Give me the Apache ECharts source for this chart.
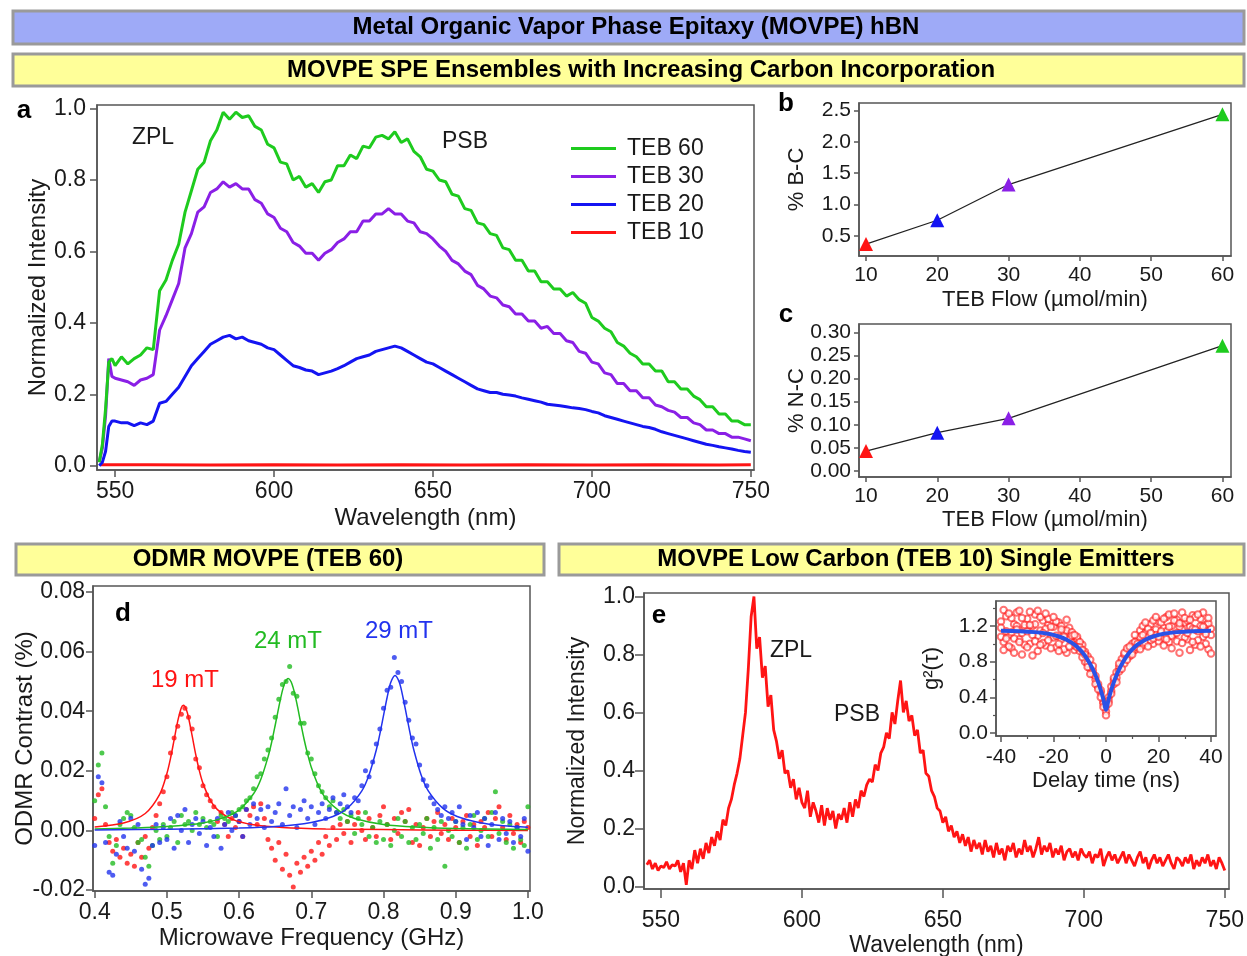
<!DOCTYPE html>
<html>
<head>
<meta charset="utf-8">
<title>MOVPE hBN</title>
<script src="https://cdn.jsdelivr.net/npm/echarts@6/dist/echarts.min.js"></script>
<style>
  html, body { margin: 0; padding: 0; background: #fff; }
  #main { width: 1247px; height: 956px; }
</style>
</head>
<body>
<div id="main"></div>
<script>
// ---- panel a: ensemble spectra (normalized intensity vs wavelength) ----
var wlA = [545, 546, 547, 548, 549,
  550, 552, 554, 556, 558, 560, 562, 564, 566, 568,
  570, 572, 574, 576, 578, 580, 582, 584, 586, 588,
  590, 592, 594, 596, 598, 600, 602, 604, 606, 608,
  610, 612, 614, 616, 618, 620, 622, 624, 626, 628,
  630, 632, 634, 636, 638, 640, 642, 644, 646, 648,
  650, 652, 654, 656, 658, 660, 662, 664, 666, 668,
  670, 672, 674, 676, 678, 680, 682, 684, 686, 688,
  690, 692, 694, 696, 698, 700, 702, 704, 706, 708,
  710, 712, 714, 716, 718, 720, 722, 724, 726, 728,
  730, 732, 734, 736, 738, 740, 742, 744, 746, 748,
  750];
var teb60 = [0.01, 0.06, 0.16, 0.29, 0.30,
  0.28, 0.305, 0.285, 0.30, 0.31, 0.33, 0.325, 0.49, 0.52, 0.575,
  0.62, 0.71, 0.77, 0.83, 0.85, 0.91, 0.94, 0.99, 0.97, 0.99,
  0.975, 0.98, 0.95, 0.94, 0.90, 0.89, 0.85, 0.845, 0.80, 0.81,
  0.78, 0.79, 0.765, 0.795, 0.80, 0.84, 0.84, 0.87, 0.86, 0.895,
  0.89, 0.92, 0.925, 0.915, 0.935, 0.905, 0.915, 0.88, 0.865, 0.83,
  0.825, 0.80, 0.795, 0.76, 0.755, 0.72, 0.715, 0.68, 0.675, 0.65,
  0.645, 0.61, 0.605, 0.575, 0.575, 0.545, 0.545, 0.515, 0.515, 0.495,
  0.495, 0.475, 0.485, 0.465, 0.455, 0.415, 0.405, 0.385, 0.375, 0.345,
  0.335, 0.315, 0.305, 0.285, 0.285, 0.265, 0.265, 0.235, 0.235, 0.215,
  0.215, 0.195, 0.185, 0.165, 0.165, 0.145, 0.145, 0.125, 0.125, 0.115,
  0.115];
var teb30 = [0.01, 0.05, 0.14, 0.30, 0.25,
  0.245, 0.24, 0.235, 0.225, 0.24, 0.245, 0.255, 0.38, 0.42, 0.465,
  0.51, 0.61, 0.65, 0.71, 0.725, 0.765, 0.775, 0.795, 0.78, 0.79,
  0.775, 0.775, 0.745, 0.735, 0.705, 0.695, 0.665, 0.655, 0.625, 0.615,
  0.595, 0.595, 0.575, 0.595, 0.605, 0.625, 0.635, 0.655, 0.655, 0.685,
  0.685, 0.705, 0.705, 0.72, 0.705, 0.705, 0.685, 0.68, 0.655, 0.65,
  0.635, 0.615, 0.60, 0.575, 0.565, 0.545, 0.535, 0.505, 0.495, 0.475,
  0.47, 0.45, 0.445, 0.425, 0.425, 0.405, 0.405, 0.385, 0.39, 0.37,
  0.37, 0.35, 0.345, 0.32, 0.315, 0.29, 0.285, 0.26, 0.255, 0.23,
  0.23, 0.21, 0.21, 0.19, 0.19, 0.17, 0.165, 0.155, 0.15, 0.135,
  0.135, 0.12, 0.115, 0.10, 0.10, 0.09, 0.09, 0.08, 0.08, 0.075,
  0.07];
var teb20 = [0.0, 0.01, 0.04, 0.11, 0.125,
  0.125, 0.12, 0.12, 0.112, 0.12, 0.115, 0.125, 0.175, 0.18, 0.20,
  0.22, 0.25, 0.28, 0.30, 0.32, 0.34, 0.35, 0.36, 0.365, 0.355,
  0.36, 0.35, 0.345, 0.34, 0.33, 0.325, 0.31, 0.295, 0.28, 0.275,
  0.268, 0.265, 0.255, 0.26, 0.265, 0.272, 0.28, 0.29, 0.30, 0.305,
  0.31, 0.32, 0.325, 0.33, 0.335, 0.33, 0.32, 0.31, 0.30, 0.29,
  0.285, 0.275, 0.265, 0.255, 0.245, 0.235, 0.225, 0.215, 0.21, 0.205,
  0.205, 0.20, 0.198, 0.195, 0.19, 0.186, 0.182, 0.178, 0.172, 0.17,
  0.168, 0.165, 0.162, 0.16, 0.157, 0.152, 0.148, 0.14, 0.135, 0.13,
  0.125, 0.12, 0.115, 0.11, 0.107, 0.102, 0.095, 0.09, 0.085, 0.08,
  0.075, 0.07, 0.065, 0.06, 0.057, 0.053, 0.05, 0.047, 0.043, 0.04,
  0.038];
var wlA10 = [545.5, 560, 580, 600, 620, 640, 660, 680, 700, 720, 740, 750];
var teb10 = [0.003, 0.003, 0.002, 0.003, 0.002, 0.003, 0.002, 0.003, 0.002, 0.003, 0.002, 0.003];
var wlTicks = [550, 600, 650, 700, 750];
var intTicks = [0, 0.2, 0.4, 0.6, 0.8, 1.0];

// ---- panels b, c: carbon incorporation vs TEB flow ----
var tebFlow = [10, 20, 30, 60];
var pctBC = [0.37, 0.75, 1.32, 2.44];
var pctNC = [0.043, 0.083, 0.114, 0.271];
var flowTicks = [10, 20, 30, 40, 50, 60];
var bcTicks = [0.5, 1.0, 1.5, 2.0, 2.5];
var ncTicks = [0, 0.05, 0.10, 0.15, 0.20, 0.25, 0.30];

// ---- panel d: ODMR ----
var freq = [0.400, 0.405, 0.410, 0.415, 0.420, 0.425, 0.430, 0.435, 0.440, 0.445,
  0.450, 0.455, 0.460, 0.465, 0.470, 0.475, 0.480, 0.485, 0.490, 0.495,
  0.500, 0.505, 0.510, 0.515, 0.520, 0.525, 0.530, 0.535, 0.540, 0.545,
  0.550, 0.555, 0.560, 0.565, 0.570, 0.575, 0.580, 0.585, 0.590, 0.595,
  0.600, 0.605, 0.610, 0.615, 0.620, 0.625, 0.630, 0.635, 0.640, 0.645,
  0.650, 0.655, 0.660, 0.665, 0.670, 0.675, 0.680, 0.685, 0.690, 0.695,
  0.700, 0.705, 0.710, 0.715, 0.720, 0.725, 0.730, 0.735, 0.740, 0.745,
  0.750, 0.755, 0.760, 0.765, 0.770, 0.775, 0.780, 0.785, 0.790, 0.795,
  0.800, 0.805, 0.810, 0.815, 0.820, 0.825, 0.830, 0.835, 0.840, 0.845,
  0.850, 0.855, 0.860, 0.865, 0.870, 0.875, 0.880, 0.885, 0.890, 0.895,
  0.900, 0.905, 0.910, 0.915, 0.920, 0.925, 0.930, 0.935, 0.940, 0.945,
  0.950, 0.955, 0.960, 0.965, 0.970, 0.975, 0.980, 0.985, 0.990, 0.995,
  1.000];
var odmr19 = [0.004, 0.012, 0.014, 0.002, -0.004, -0.007, -0.003, -0.009, -0.006, -0.011,
  -0.008, -0.012, -0.004, -0.009, -0.002, -0.006, 0.001, 0.005, 0.009, 0.013,
  0.018, 0.026, 0.031, 0.035, 0.039, 0.041, 0.038, 0.034, 0.024, 0.021,
  0.015, 0.012, 0.010, 0.008, 0.003, 0.006, 0.002, -0.002, 0.004, 0.001,
  0.003, -0.002, 0.007, 0.005, 0.008, 0.002, 0.009, 0.004, -0.003, -0.006,
  -0.010, -0.004, -0.013, -0.008, -0.015, -0.019, -0.011, -0.014, -0.009, -0.012,
  -0.007, -0.010, -0.004, -0.008, -0.002, -0.005, 0.001, -0.003, 0.002, -0.001,
  0.003, -0.004, 0.002, 0.006, 0.000, -0.003, 0.004, 0.001, -0.002, 0.005,
  0.008, 0.002, -0.003, 0.004, -0.001, 0.006, 0.003, 0.007, -0.004, 0.002,
  -0.005, 0.001, 0.004, -0.002, 0.003, 0.006, -0.001, 0.002, -0.003, 0.004,
  0.001, -0.004, 0.003, 0.005, -0.002, 0.002, -0.005, 0.003, 0.001, 0.006,
  -0.002, 0.004, 0.008, 0.001, -0.003, 0.005, -0.001, 0.002, -0.004, 0.003,
  0.001];
var odmr24 = [0.010, 0.022, 0.026, 0.008, -0.002, -0.011, -0.005, 0.002, 0.004, 0.006,
  0.005, 0.001, -0.004, -0.003, -0.009, -0.012, -0.005, 0.000, -0.003, 0.002,
  -0.002, 0.001, 0.003, -0.004, 0.005, 0.002, 0.003, 0.000, 0.006, 0.002,
  0.004, 0.001, 0.003, 0.002, -0.002, 0.005, 0.004, 0.003, 0.006, 0.005,
  0.007, 0.008, 0.010, 0.011, 0.014, 0.018, 0.019, 0.024, 0.027, 0.031,
  0.038, 0.044, 0.049, 0.050, 0.055, 0.046, 0.045, 0.036, 0.036, 0.026,
  0.024, 0.019, 0.015, 0.013, 0.011, 0.008, 0.010, 0.006, 0.004, 0.007,
  0.003, 0.005, -0.001, 0.004, 0.002, 0.006, -0.002, 0.001, -0.004, 0.003,
  -0.003, 0.002, -0.005, 0.000, 0.004, -0.002, 0.003, -0.004, 0.001, -0.003,
  0.002, -0.001, 0.004, -0.006, 0.001, -0.003, 0.003, -0.012, 0.000, -0.002,
  0.003, -0.004, 0.001, -0.006, 0.002, 0.005, -0.003, 0.000, 0.004, -0.002,
  0.006, 0.013, -0.001, 0.003, -0.004, 0.002, -0.006, 0.001, -0.003, -0.005,
  0.008];
var odmr29 = [-0.005, 0.018, 0.016, -0.004, -0.014, -0.015, -0.008, 0.003, -0.002, -0.006,
  0.004, -0.007, 0.002, -0.013, -0.018, -0.016, -0.005, 0.002, -0.004, 0.001,
  -0.003, 0.004, -0.006, 0.005, 0.000, 0.007, -0.004, 0.002, 0.004, -0.001,
  0.003, -0.005, 0.001, -0.002, 0.004, -0.006, 0.002, 0.006, 0.000, 0.005,
  0.003, -0.002, 0.007, 0.002, 0.009, 0.004, 0.007, 0.001, 0.008, 0.003,
  0.006, 0.009, 0.002, 0.014, 0.005, 0.008, 0.001, 0.007, 0.010, 0.004,
  0.008, 0.002, 0.006, 0.009, 0.004, 0.007, 0.011, 0.006, 0.009, 0.012,
  0.008, 0.006, 0.011, 0.010, 0.015, 0.020, 0.018, 0.023, 0.029, 0.034,
  0.041, 0.047, 0.048, 0.058, 0.053, 0.050, 0.043, 0.037, 0.031, 0.029,
  0.022, 0.017, 0.015, 0.011, 0.009, 0.007, 0.005, 0.008, 0.004, 0.006,
  0.003, 0.008, 0.002, -0.003, 0.005, 0.001, 0.006, -0.002, 0.004, -0.005,
  0.002, 0.006, -0.003, 0.004, -0.001, 0.003, -0.004, 0.001, -0.002, 0.004,
  -0.007];
var fit19X = [0.40, 0.44, 0.47, 0.49, 0.50, 0.505, 0.51, 0.515, 0.52, 0.523, 0.527, 0.53, 0.535,
  0.54, 0.545, 0.55, 0.56, 0.57, 0.59, 0.62, 0.66, 0.72, 0.80, 0.90, 1.00];
var fit19 = [0.0012, 0.0025, 0.0057, 0.0121, 0.0191, 0.0242, 0.0304, 0.0367, 0.0412, 0.0420, 0.0405, 0.0378, 0.0317,
  0.0254, 0.0200, 0.0158, 0.0102, 0.0070, 0.0038, 0.0019, 0.0010, 0.0005, 0.0003, 0.0001, 0.0000];
var fit24X = [0.40, 0.45, 0.50, 0.55, 0.58, 0.60, 0.62, 0.63, 0.64, 0.645, 0.65, 0.655, 0.66, 0.664, 0.668,
  0.672, 0.676, 0.68, 0.685, 0.69, 0.695, 0.70, 0.71, 0.72, 0.74, 0.76, 0.80, 0.85, 0.90, 1.00];
var fit24 = [0.0005, 0.0008, 0.0013, 0.0025, 0.0044, 0.0069, 0.0123, 0.0171, 0.0246, 0.0295, 0.0353, 0.0414, 0.0469, 0.0499, 0.0510,
  0.0499, 0.0469, 0.0426, 0.0365, 0.0306, 0.0255, 0.0212, 0.0149, 0.0108, 0.0063, 0.0040, 0.0020, 0.0011, 0.0007, 0.0003];
var fit29X = [0.40, 0.50, 0.60, 0.65, 0.70, 0.73, 0.75, 0.77, 0.78, 0.79, 0.795, 0.80, 0.805, 0.81, 0.816,
  0.822, 0.827, 0.832, 0.837, 0.842, 0.852, 0.862, 0.882, 0.902, 0.932, 0.966, 1.00];
var fit29 = [0.0002, 0.0004, 0.0008, 0.0013, 0.0027, 0.0047, 0.0075, 0.0133, 0.0187, 0.0270, 0.0324, 0.0385, 0.0446, 0.0496, 0.0520,
  0.0496, 0.0446, 0.0385, 0.0324, 0.0270, 0.0187, 0.0133, 0.0075, 0.0047, 0.0027, 0.0016, 0.0011];
var freqTicks = [0.4, 0.5, 0.6, 0.7, 0.8, 0.9, 1.0];
var odmrTicks = [-0.02, 0, 0.02, 0.04, 0.06, 0.08];

// ---- panel e: single emitter spectrum ----
var wlE = [545, 546, 547, 548, 549, 550, 551, 552, 553, 554,
  555, 556, 557, 558, 559, 560, 561, 562, 563, 564,
  565, 566, 567, 568, 569, 570, 571, 572, 573, 574,
  575, 576, 577, 578, 579, 580, 581, 582, 583, 584,
  585, 586, 587, 588, 589, 590, 591, 592, 593, 594,
  595, 596, 597, 598, 599, 600, 601, 602, 603, 604,
  605, 606, 607, 608, 609, 610, 611, 612, 613, 614,
  615, 616, 617, 618, 619, 620, 621, 622, 623, 624,
  625, 626, 627, 628, 629, 630, 631, 632, 633, 634,
  635, 636, 637, 638, 639, 640, 641, 642, 643, 644,
  645, 646, 647, 648, 649, 650, 651, 652, 653, 654,
  655, 656, 657, 658, 659, 660, 661, 662, 663, 664,
  665, 666, 667, 668, 669, 670, 671, 672, 673, 674,
  675, 676, 677, 678, 679, 680, 681, 682, 683, 684,
  685, 686, 687, 688, 689, 690, 691, 692, 693, 694,
  695, 696, 697, 698, 699, 700, 701, 702, 703, 704,
  705, 706, 707, 708, 709, 710, 711, 712, 713, 714,
  715, 716, 717, 718, 719, 720, 721, 722, 723, 724,
  725, 726, 727, 728, 729, 730, 731, 732, 733, 734,
  735, 736, 737, 738, 739, 740, 741, 742, 743, 744,
  745, 746, 747, 748, 749, 750];
var specE = [0.075, 0.09, 0.06, 0.08, 0.055, 0.07, 0.065, 0.085, 0.06, 0.075,
  0.07, 0.09, 0.05, 0.08, 0.005, 0.09, 0.06, 0.125, 0.08, 0.13,
  0.095, 0.15, 0.115, 0.17, 0.14, 0.19, 0.16, 0.23, 0.21, 0.27,
  0.30, 0.35, 0.39, 0.44, 0.52, 0.60, 0.75, 0.93, 1.0, 0.82,
  0.86, 0.72, 0.76, 0.62, 0.66, 0.54, 0.50, 0.44, 0.47, 0.39,
  0.40, 0.34, 0.37, 0.30, 0.34, 0.29, 0.27, 0.33, 0.24, 0.29,
  0.26, 0.22, 0.28, 0.21, 0.27, 0.23, 0.26, 0.20, 0.25, 0.23,
  0.27, 0.22, 0.29, 0.24, 0.30, 0.27, 0.33, 0.31, 0.35, 0.37,
  0.36, 0.42, 0.40, 0.46, 0.48, 0.53, 0.51, 0.60, 0.56, 0.64,
  0.71, 0.60, 0.64, 0.57, 0.59, 0.52, 0.54, 0.46, 0.47, 0.39,
  0.38, 0.33, 0.31, 0.27, 0.26, 0.22, 0.24, 0.19, 0.21, 0.17,
  0.19, 0.15, 0.18, 0.14, 0.17, 0.12, 0.16, 0.13, 0.15, 0.11,
  0.16, 0.12, 0.14, 0.10, 0.15, 0.11, 0.13, 0.09, 0.14, 0.12,
  0.15, 0.10, 0.13, 0.11, 0.16, 0.12, 0.14, 0.10, 0.13, 0.17,
  0.11, 0.14, 0.12, 0.15, 0.10, 0.13, 0.11, 0.14, 0.09, 0.12,
  0.13, 0.10, 0.12, 0.09, 0.13, 0.11, 0.10, 0.12, 0.08, 0.11,
  0.10, 0.13, 0.07, 0.10, 0.12, 0.09, 0.11, 0.08, 0.10, 0.12,
  0.08, 0.11, 0.09, 0.07, 0.10, 0.12, 0.08, 0.10, 0.06, 0.09,
  0.11, 0.08, 0.10, 0.07, 0.09, 0.11, 0.08, 0.06, 0.10, 0.09,
  0.07, 0.10, 0.08, 0.11, 0.06, 0.09, 0.07, 0.10, 0.08, 0.11,
  0.07, 0.09, 0.06, 0.10, 0.08, 0.055];
var eTicks = [0, 0.2, 0.4, 0.6, 0.8, 1.0];

// ---- inset: g2(tau) ----
var delay = [-40, -39, -38, -37, -36, -35, -34, -33, -32, -31,
  -30, -29, -28, -27, -26, -25, -24, -23, -22, -21,
  -20, -19, -18, -17, -16, -15, -14, -13, -12, -11,
  -10, -9, -8, -7, -6, -5, -4, -3, -2, -1,
  0,
  1, 2, 3, 4, 5, 6, 7, 8, 9, 10,
  11, 12, 13, 14, 15, 16, 17, 18, 19, 20,
  21, 22, 23, 24, 25, 26, 27, 28, 29, 30,
  31, 32, 33, 34, 35, 36, 37, 38, 39, 40];
var g2a = [1.25, 1.02, 1.31, 1.10, 0.95, 1.22, 1.35, 1.05, 0.88, 1.18,
  1.28, 1.00, 1.20, 1.33, 0.92, 1.15, 1.26, 0.98, 1.21, 1.08,
  1.19, 0.96, 1.24, 1.05, 1.12, 0.90, 1.18, 1.02, 0.93, 1.05,
  0.92, 0.99, 0.80, 0.86, 0.72, 0.66, 0.60, 0.52, 0.45, 0.35,
  0.24,
  0.40, 0.47, 0.59, 0.62, 0.74, 0.80, 0.78, 0.90, 0.86, 1.00,
  0.93, 1.05, 1.15, 0.98, 1.12, 1.08, 1.22, 1.00, 1.16, 1.25,
  1.06, 1.18, 1.30, 1.02, 1.20, 1.11, 1.27, 0.90, 1.16, 1.24,
  1.05, 1.19, 1.32, 0.99, 1.14, 1.28, 1.08, 1.21, 0.94, 1.17];
var g2b = [1.08, 1.38, 1.14, 0.97, 1.29, 1.06, 1.20, 1.37, 1.12, 0.99,
  1.14, 1.36, 0.87, 1.22, 1.09, 1.30, 1.01, 1.17, 1.28, 0.95,
  1.07, 1.25, 1.00, 1.20, 0.94, 1.15, 1.05, 1.13, 0.98, 1.08,
  1.02, 0.85, 0.91, 0.78, 0.82, 0.70, 0.64, 0.55, 0.48, 0.33,
  0.30,
  0.36, 0.52, 0.55, 0.68, 0.69, 0.83, 0.88, 0.82, 0.95, 0.91,
  1.02, 0.96, 1.08, 1.20, 1.01, 1.17, 1.04, 1.26, 1.10, 1.03,
  1.24, 0.98, 1.14, 1.33, 1.09, 1.26, 1.03, 1.19, 1.35, 1.07,
  1.26, 0.93, 1.17, 1.30, 1.04, 1.20, 1.35, 1.00, 1.23, 1.10];
var g2c = [1.18, 0.93, 1.06, 1.34, 1.13, 0.90, 1.16, 1.02, 1.29, 1.21,
  0.96, 1.21, 1.10, 1.03, 1.37, 0.99, 1.12, 1.34, 1.04, 1.19,
  1.30, 1.09, 0.92, 1.16, 1.08, 1.27, 0.97, 1.09, 1.10, 0.96,
  0.96, 0.93, 0.88, 0.74, 0.66, 0.75, 0.55, 0.49, 0.40, 0.29,
  0.20,
  0.33, 0.44, 0.62, 0.57, 0.78, 0.72, 0.90, 0.95, 0.97, 0.88,
  1.10, 1.00, 0.94, 1.10, 1.24, 0.97, 1.12, 1.06, 1.30, 1.08,
  1.14, 1.28, 1.05, 1.19, 0.95, 1.34, 1.12, 1.23, 1.01, 1.29,
  1.12, 1.27, 1.02, 1.16, 1.33, 0.97, 1.19, 1.11, 1.29, 0.89];
var fitDelay = [-40, -33, -27, -22, -18, -15, -12, -10, -8, -6, -5, -4, -3, -2, -1, 0,
  1, 2, 3, 4, 5, 6, 8, 10, 12, 15, 18, 22, 27, 33, 40];
var fitG2 = [1.147, 1.142, 1.131, 1.112, 1.082, 1.046, 0.990, 0.937, 0.866, 0.772, 0.714, 0.647, 0.570, 0.482, 0.379, 0.26,
  0.379, 0.482, 0.570, 0.647, 0.714, 0.772, 0.866, 0.937, 0.990, 1.046, 1.082, 1.112, 1.131, 1.142, 1.147];
var delayTicks = [-40, -20, 0, 20, 40];
var delayMinor = [-30, -10, 10, 30];
var g2Ticks = [0, 0.4, 0.8, 1.2];
var g2Minor = [0.2, 0.6, 1.0, 1.4];

var FONT = '"Liberation Sans", Arial, Helvetica, sans-serif';
var frameColor = '#555';
var textColor = '#1a1a1a';
var cGreen = '#1ecb1e', cPurple = '#8a1fe6', cBlue = '#1414f2', cRed = '#ff1414';

function pairs(xs, ys) {
    return xs.map(function (x, i) { return [x, ys[i]]; });
}
function fixed(n) {
    return function (v) { return v.toFixed(n); };
}

function makeGrid(left, top, width, height) {
    return {
        left: left, top: top, width: width, height: height,
        show: true, borderColor: frameColor, borderWidth: 1.5,
        containLabel: false, outerBoundsMode: 'none'
    };
}

// shared axis look: frame axis with outward ticks at given values
function makeAxis(o) {
    return {
        type: 'value', gridIndex: o.grid, min: o.min, max: o.max,
        position: o.position,
        name: o.name, nameLocation: 'middle', nameGap: o.nameGap, nameMoveOverlap: false,
        nameTextStyle: { fontSize: o.nameSize, color: textColor, fontFamily: FONT },
        axisLine: { show: true, onZero: false, lineStyle: { color: frameColor, width: 1.5 } },
        axisTick: { show: true, customValues: o.ticks, length: o.tickLen, lineStyle: { color: frameColor, width: 1.5 } },
        axisLabel: { customValues: o.ticks, formatter: o.fmt, fontSize: o.size, color: textColor, margin: o.margin, fontFamily: FONT },
        splitLine: { show: false }
    };
}
function minorAxis(grid, position, min, max, ticks) {
    return {
        type: 'value', gridIndex: grid, min: min, max: max, position: position,
        axisLine: { show: false, onZero: false },
        axisTick: { show: true, customValues: ticks, length: 3, lineStyle: { color: frameColor, width: 1.2 } },
        axisLabel: { show: false },
        splitLine: { show: false }
    };
}

function banner(x, y, w, h, fill, text, cx) {
    return [
        { type: 'rect', shape: { x: x, y: y, width: w, height: h },
          style: { fill: fill, stroke: '#9a9a9a', lineWidth: 3 } },
        { type: 'text', x: cx, y: y + h / 2,
          style: { text: text, fontSize: 24, fontWeight: 'bold', fontFamily: FONT, fill: '#000',
                   align: 'center', verticalAlign: 'middle' } }
    ];
}
function note(x, y, text, color, size, bold) {
    return { type: 'text', x: x, y: y,
        style: { text: text, fontSize: size, fontWeight: bold ? 'bold' : 'normal', fontFamily: FONT,
                 fill: color, align: 'center', verticalAlign: 'middle' } };
}

var triColors = [cRed, cBlue, cPurple, cGreen];
function triPoints(xs, ys) {
    return xs.map(function (x, i) {
        return { value: [x, ys[i]], itemStyle: { color: triColors[i] } };
    });
}

var chart = echarts.init(document.getElementById('main'), null, { renderer: 'canvas' });

var option = {
    animation: false,
    backgroundColor: '#fff',
    textStyle: { fontFamily: FONT },
    grid: [
        makeGrid(97, 105, 657, 365),   // a
        makeGrid(859, 103, 372, 153),  // b
        makeGrid(859, 324, 372, 153),  // c
        makeGrid(93, 586, 437, 305),   // d
        makeGrid(644, 593, 585, 296),  // e
        makeGrid(996, 601, 220, 135)   // inset
    ],
    xAxis: [
        makeAxis({ grid: 0, position: 'bottom', min: 544.3, max: 751, ticks: wlTicks, fmt: fixed(0), size: 23, margin: 10, tickLen: 7,
                   name: 'Wavelength (nm)', nameGap: 36, nameSize: 24 }),
        makeAxis({ grid: 1, position: 'bottom', min: 9.02, max: 61.2, ticks: flowTicks, fmt: fixed(0), size: 21, margin: 9, tickLen: 5,
                   name: 'TEB Flow (µmol/min)', nameGap: 33, nameSize: 22 }),
        makeAxis({ grid: 2, position: 'bottom', min: 9.02, max: 61.2, ticks: flowTicks, fmt: fixed(0), size: 21, margin: 9, tickLen: 5,
                   name: 'TEB Flow (µmol/min)', nameGap: 32, nameSize: 22 }),
        makeAxis({ grid: 3, position: 'bottom', min: 0.39765, max: 1.0029, ticks: freqTicks, fmt: fixed(1), size: 23, margin: 10, tickLen: 7,
                   name: 'Microwave Frequency (GHz)', nameGap: 35, nameSize: 24 }),
        makeAxis({ grid: 4, position: 'bottom', min: 544, max: 751.5, ticks: wlTicks, fmt: fixed(0), size: 23, margin: 20, tickLen: 9,
                   name: 'Wavelength (nm)', nameGap: 45, nameSize: 23 }),
        makeAxis({ grid: 5, position: 'bottom', min: -41.9, max: 41.9, ticks: delayTicks, fmt: fixed(0), size: 21, margin: 11, tickLen: 6,
                   name: 'Delay time (ns)', nameGap: 34, nameSize: 22 }),
        minorAxis(5, 'bottom', -41.9, 41.9, delayMinor)
    ],
    yAxis: [
        makeAxis({ grid: 0, position: 'left', min: -0.012, max: 1.01, ticks: intTicks, fmt: fixed(1), size: 23, margin: 11, tickLen: 7,
                   name: 'Normalized Intensity', nameGap: 47, nameSize: 24 }),
        makeAxis({ grid: 1, position: 'left', min: 0.18, max: 2.62, ticks: bcTicks, fmt: fixed(1), size: 21, margin: 8, tickLen: 5,
                   name: '% B-C', nameGap: 51, nameSize: 22 }),
        makeAxis({ grid: 2, position: 'left', min: -0.013, max: 0.318, ticks: ncTicks, fmt: fixed(2), size: 21, margin: 8, tickLen: 5,
                   name: '% N-C', nameGap: 51, nameSize: 22 }),
        makeAxis({ grid: 3, position: 'left', min: -0.0203, max: 0.082, ticks: odmrTicks, fmt: fixed(2), size: 23, margin: 8, tickLen: 7,
                   name: 'ODMR Contrast (%)', nameGap: 56, nameSize: 24 }),
        makeAxis({ grid: 4, position: 'left', min: -0.009, max: 1.012, ticks: eTicks, fmt: fixed(1), size: 23, margin: 9, tickLen: 9,
                   name: 'Normalized Intensity', nameGap: 55, nameSize: 23 }),
        makeAxis({ grid: 5, position: 'left', min: -0.034, max: 1.48, ticks: g2Ticks, fmt: fixed(1), size: 21, margin: 8, tickLen: 6,
                   name: 'g²(τ)', nameGap: 53, nameSize: 22 }),
        minorAxis(5, 'left', -0.034, 1.48, g2Minor)
    ],
    legend: {
        data: ['TEB 60', 'TEB 30', 'TEB 20', 'TEB 10'],
        orient: 'vertical', left: 571, top: 137, padding: 0,
        itemWidth: 45, itemHeight: 3, itemGap: 5, icon: 'rect',
        selectedMode: false,
        textStyle: { fontSize: 23, color: textColor, fontFamily: FONT, padding: [0, 0, 0, 6] }
    },
    graphic: [].concat(
        banner(13, 11, 1231, 33, '#9eaaf7', 'Metal Organic Vapor Phase Epitaxy (MOVPE) hBN', 636),
        banner(13, 54, 1231, 32, '#ffff99', 'MOVPE SPE Ensembles with Increasing Carbon Incorporation', 641),
        banner(16, 544, 528, 31, '#ffff99', 'ODMR MOVPE (TEB 60)', 268),
        banner(559, 544, 685, 31, '#ffff99', 'MOVPE Low Carbon (TEB 10) Single Emitters', 916),
        [
            note(24, 111, 'a', '#000', 26, true),
            note(786, 104, 'b', '#000', 26, true),
            note(786, 315, 'c', '#000', 26, true),
            note(123, 614, 'd', '#000', 26, true),
            note(659, 616, 'e', '#000', 26, true),
            note(153, 138, 'ZPL', textColor, 23),
            note(465, 142, 'PSB', textColor, 23),
            note(185, 680, '19 mT', cRed, 24),
            note(288, 641, '24 mT', '#22bb22', 24),
            note(399, 631, '29 mT', '#2233ee', 24),
            note(791, 651, 'ZPL', textColor, 23),
            note(857, 715, 'PSB', textColor, 23)
        ]
    ),
    series: [
        // panel a
        { name: 'TEB 10', type: 'line', xAxisIndex: 0, yAxisIndex: 0, data: pairs(wlA10, teb10),
          showSymbol: false, color: cRed, lineStyle: { width: 3 } },
        { name: 'TEB 20', type: 'line', xAxisIndex: 0, yAxisIndex: 0, data: pairs(wlA, teb20),
          showSymbol: false, color: cBlue, lineStyle: { width: 3 } },
        { name: 'TEB 30', type: 'line', xAxisIndex: 0, yAxisIndex: 0, data: pairs(wlA, teb30),
          showSymbol: false, color: cPurple, lineStyle: { width: 3 } },
        { name: 'TEB 60', type: 'line', xAxisIndex: 0, yAxisIndex: 0, data: pairs(wlA, teb60),
          showSymbol: false, color: cGreen, lineStyle: { width: 3 } },
        // panel b, c
        { name: 'B-C', type: 'line', xAxisIndex: 1, yAxisIndex: 1, data: triPoints(tebFlow, pctBC),
          symbol: 'triangle', symbolSize: 14, lineStyle: { color: '#222', width: 1.3 } },
        { name: 'N-C', type: 'line', xAxisIndex: 2, yAxisIndex: 2, data: triPoints(tebFlow, pctNC),
          symbol: 'triangle', symbolSize: 14, lineStyle: { color: '#222', width: 1.3 } },
        // panel d
        { name: '19 mT', type: 'scatter', xAxisIndex: 3, yAxisIndex: 3, data: pairs(freq, odmr19),
          symbolSize: 5, itemStyle: { color: cRed } },
        { name: '24 mT', type: 'scatter', xAxisIndex: 3, yAxisIndex: 3, data: pairs(freq, odmr24),
          symbolSize: 5, itemStyle: { color: '#22bb22' } },
        { name: '29 mT', type: 'scatter', xAxisIndex: 3, yAxisIndex: 3, data: pairs(freq, odmr29),
          symbolSize: 5, itemStyle: { color: '#2233ee' } },
        { name: 'fit 19', type: 'line', xAxisIndex: 3, yAxisIndex: 3, data: pairs(fit19X, fit19),
          showSymbol: false, smooth: 0.3, lineStyle: { color: cRed, width: 1.5 } },
        { name: 'fit 24', type: 'line', xAxisIndex: 3, yAxisIndex: 3, data: pairs(fit24X, fit24),
          showSymbol: false, smooth: 0.3, lineStyle: { color: '#22bb22', width: 1.5 } },
        { name: 'fit 29', type: 'line', xAxisIndex: 3, yAxisIndex: 3, data: pairs(fit29X, fit29),
          showSymbol: false, smooth: 0.3, lineStyle: { color: '#2233ee', width: 1.5 } },
        // panel e
        { name: 'PL', type: 'line', xAxisIndex: 4, yAxisIndex: 4, data: pairs(wlE, specE),
          showSymbol: false, lineStyle: { color: cRed, width: 2.8 } },
        // inset
        { name: 'g2', type: 'scatter', xAxisIndex: 5, yAxisIndex: 5,
          data: pairs(delay, g2a).concat(pairs(delay, g2b), pairs(delay, g2c)),
          symbol: 'emptyCircle', symbolSize: 6.5,
          itemStyle: { color: 'rgba(255,20,20,0.75)', borderColor: 'rgba(255,20,20,0.75)', borderWidth: 1 } },
        { name: 'g2 fit', type: 'line', xAxisIndex: 5, yAxisIndex: 5, data: pairs(fitDelay, fitG2),
          showSymbol: false, smooth: 0.3, lineStyle: { color: '#2a52e6', width: 4 } }
    ]
};

chart.setOption(option);
</script>
</body>
</html>
